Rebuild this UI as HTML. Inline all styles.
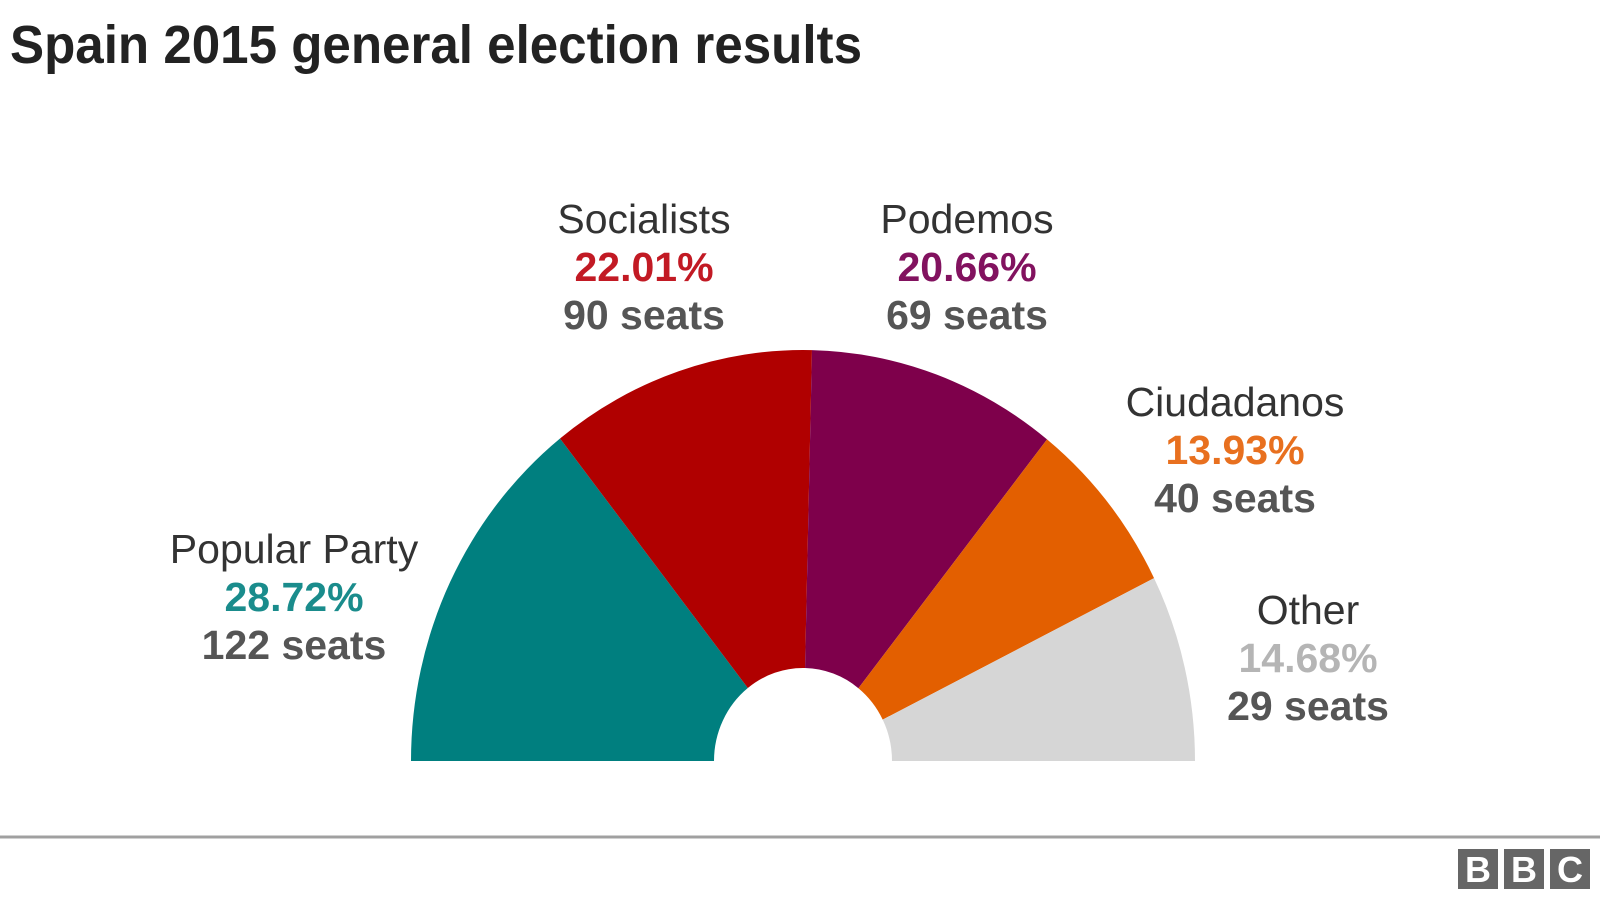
<!DOCTYPE html>
<html><head><meta charset="utf-8"><style>
body{margin:0;background:#fff;width:1600px;height:900px;overflow:hidden}
svg{display:block;font-family:"Liberation Sans",Arial,sans-serif}
</style></head><body>
<svg id="chart" width="1600" height="900" viewBox="0 0 1600 900">
<text x="10" y="63" font-size="54" font-weight="bold" fill="#222" textLength="852" lengthAdjust="spacingAndGlyphs">Spain 2015 general election results</text>
<g id="slices"></g>
<g id="labels"></g>
<line x1="0" y1="837" x2="1600" y2="837" stroke="#a0a0a0" stroke-width="3"/>
<g font-weight="bold" font-size="36" fill="#fff" text-anchor="middle">
<rect x="1458" y="849" width="40" height="40" fill="#666"/><text x="1478" y="882">B</text>
<rect x="1504" y="849" width="40" height="40" fill="#666"/><text x="1524" y="882">B</text>
<rect x="1550" y="849" width="40" height="40" fill="#666"/><text x="1570" y="882">C</text>
</g>
</svg>
<script>
const parties = ["Popular Party","Socialists","Podemos","Ciudadanos","Other"];
const shares = [28.72,22.01,20.66,13.93,14.68];
const seats = [122,90,69,40,29];
const fills = ["#007f7f","#b00000","#7e004b","#e35f00","#d6d6d6"];
const textColors = ["#1a8c8c","#c21a24","#82125f","#e8701f","#b5b5b5"];
const labelPos = [[294,563],[644,233],[967,233],[1235,416],[1308,624]];
const ns="http://www.w3.org/2000/svg";
const cx=803, cy=761, rx=392, ry=411, irx=89, iry=93;
const total=shares.reduce((a,b)=>a+b,0);
function pt(a,rxx,ryy){return [cx-rxx*Math.cos(a), cy-ryy*Math.sin(a)];}
const g=document.getElementById('slices');
let acc=0;
shares.forEach((v,i)=>{
  const a0=acc/total*Math.PI; acc+=v; const a1=acc/total*Math.PI;
  const p0=pt(a0,rx,ry),p1=pt(a1,rx,ry),q1=pt(a1,irx,iry),q0=pt(a0,irx,iry);
  const d=`M${p0[0]},${p0[1]} A${rx},${ry} 0 0 1 ${p1[0]},${p1[1]} L${q1[0]},${q1[1]} A${irx},${iry} 0 0 0 ${q0[0]},${q0[1]} Z`;
  const p=document.createElementNS(ns,'path');
  p.setAttribute('d',d);p.setAttribute('fill',fills[i]);
  
  
  g.appendChild(p);
});
const L=document.getElementById('labels');
parties.forEach((n,i)=>{
  const [x,y]=labelPos[i];
  const rows=[[n,'normal','#333'],[shares[i].toFixed(2)+'%','bold',textColors[i]],[seats[i]+' seats','bold','#555']];
  rows.forEach((r,j)=>{
    const t=document.createElementNS(ns,'text');
    t.setAttribute('x',x);t.setAttribute('y',y+j*48);
    t.setAttribute('text-anchor','middle');t.setAttribute('font-size','41');
    t.setAttribute('font-weight',r[1]);t.setAttribute('fill',r[2]);
    t.textContent=r[0];
    
    
    L.appendChild(t);
  });
});
</script>
</body></html>
